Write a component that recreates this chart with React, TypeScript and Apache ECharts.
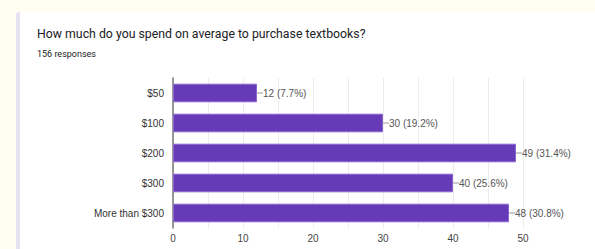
import React, { useEffect, useRef } from "react";
import * as echarts from "echarts";

const categories = ["$50", "$100", "$200", "$300", "More than $300"];
const counts = [12, 30, 49, 40, 48];
const percents = ["7.7%", "19.2%", "31.4%", "25.6%", "30.8%"];
const titleText = "How much do you spend on average to purchase textbooks?";
const subtitleText = "156 responses";

export default function App() {
  const ref = useRef<HTMLDivElement>(null);
  useEffect(() => {
    if (!ref.current) return;
    const chart = echarts.init(ref.current, undefined, { renderer: "svg" });
    chart.setOption({
      animation: false,
      backgroundColor: "#ffffff",
      graphic: [
        { type: "rect", left: 0, top: 0, shape: { width: 595, height: 12 }, style: { fill: "#fffdf0" }, z: -10 },
        { type: "rect", left: 0, top: 0, shape: { width: 16, height: 249 }, style: { fill: "#fffdf0" }, z: -10 },
        { type: "rect", left: 16, top: 12, shape: { width: 4, height: 237, r: [3, 0, 0, 0] }, style: { fill: "#e6e2f3" }, z: -9 },
      ],
      title: {
        text: titleText,
        subtext: subtitleText,
        left: 32,
        top: 23,
        itemGap: 9,
        textStyle: { fontFamily: "Roboto", fontSize: 12.3, fontWeight: "normal", color: "#202124" },
        subtextStyle: { fontFamily: "Roboto", fontSize: 9, color: "#202124" },
      },
      grid: { left: 173, right: 72, top: 78, bottom: 21, containLabel: false },
      xAxis: {
        type: "value",
        min: 0,
        max: 50,
        interval: 5,
        axisLine: { show: false },
        axisTick: { show: false },
        splitLine: { lineStyle: { color: "#ececec", width: 1 } },
        axisLabel: {
          fontFamily: "Arial",
          fontSize: 10,
          color: "#444",
          margin: 5,
          formatter: (v: number) => (v % 10 === 0 ? String(v) : ""),
        },
      },
      yAxis: {
        type: "category",
        data: categories,
        inverse: true,
        axisLine: { show: true, lineStyle: { color: "#777", width: 1.5 } },
        axisTick: { show: false },
        axisLabel: { fontFamily: "Arial", fontSize: 10, color: "#333", margin: 9 },
      },
      series: [
        {
          type: "bar",
          data: counts,
          barCategoryGap: "38%",
          itemStyle: { color: "#673ab7", borderColor: "#8a66d0", borderWidth: 1 },
          label: {
            show: true,
            position: "right",
            distance: 0,
            formatter: (p: any) => `{l|}{t|${p.value} (${percents[p.dataIndex]})}`,
            rich: {
              l: { width: 6, height: 1, backgroundColor: "#999", verticalAlign: "middle" },
              t: { fontFamily: "Arial", fontSize: 10, color: "#555", padding: [0, 0, 0, 0] },
            },
          },
        },
      ],
    });
    return () => chart.dispose();
  }, []);
  return <div ref={ref} style={{ width: 595, height: 249, position: "absolute", left: 0, top: 0 }} />;
}
